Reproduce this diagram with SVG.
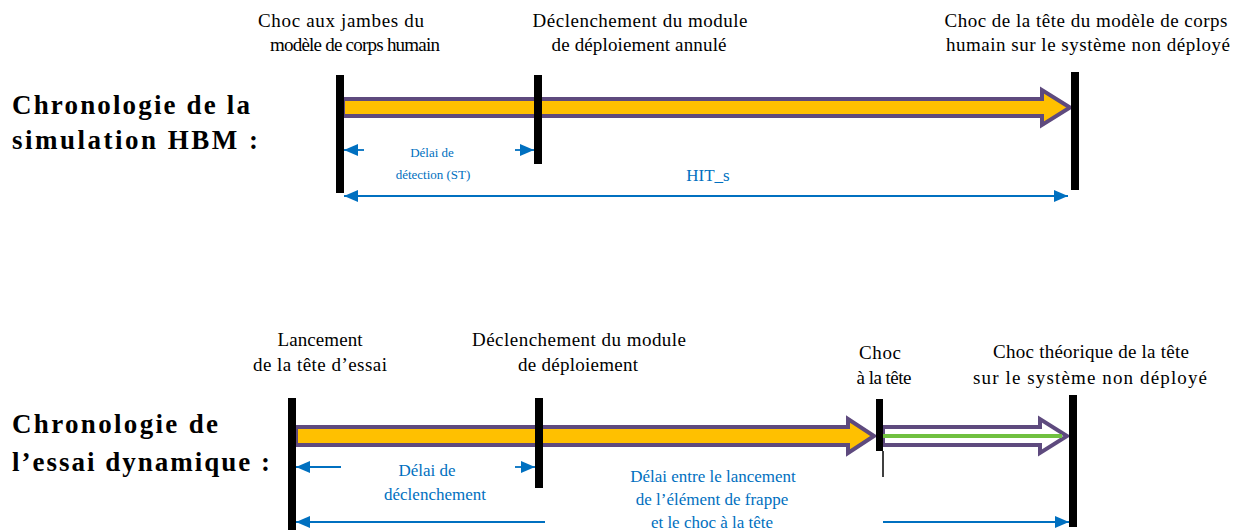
<svg xmlns="http://www.w3.org/2000/svg" width="1241" height="530" viewBox="0 0 1241 530">
<style>
text{font-family:"Liberation Serif",Tinos,"Times New Roman",Times,"DejaVu Serif","Noto Serif",serif}
.lbl{font-size:19px;fill:#000;text-anchor:middle}
.ttl{font-size:27px;font-weight:bold;fill:#000}
.blu{font-size:17px;fill:#0070C0;text-anchor:middle}
.bls{font-size:13px}
.bar{fill:#000}
.band{fill:#FFC000;stroke:#5E4A7E;stroke-width:4;stroke-linejoin:miter}
.band2{fill:#fff;stroke:#5E4A7E;stroke-width:4}
.dim{stroke:#0070C0;stroke-width:1.8;fill:none}
</style>
<defs>
<marker id="ah" viewBox="0 0 10 10" refX="10" refY="5" markerWidth="14" markerHeight="12" markerUnits="userSpaceOnUse" orient="auto-start-reverse" preserveAspectRatio="none">
<path d="M0,0 L10,5 L0,10 z" fill="#0070C0"/>
</marker>
</defs>
<rect width="1241" height="530" fill="#fff"/>

<g id="title-hbm">
<text class="ttl" x="12" y="114" textLength="238" lengthAdjust="spacing">Chronologie de la</text>
<text class="ttl" x="12" y="149" textLength="246" lengthAdjust="spacing">simulation HBM :</text>
</g>
<g id="title-essai">
<text class="ttl" x="12" y="433" textLength="206" lengthAdjust="spacing">Chronologie de</text>
<text class="ttl" x="12" y="471" textLength="258" lengthAdjust="spacing">l’essai dynamique :</text>
</g>

<g id="band-hbm">
<path class="band" d="M343,99 L1042,99 L1042,90 L1070,107.5 L1042,125 L1042,116 L343,116 z"/>
</g>
<g id="band-essai">
<path class="band" d="M296,427 L848,427 L848,419 L874,436 L848,453 L848,445 L296,445 z"/>
<path class="band2" d="M883,427 L1040,427 L1040,419 L1067,436 L1040,453 L1040,445 L883,445 z"/>
<path d="M883,436 L1062,436" stroke="#70C040" stroke-width="4"/>
</g>

<g id="ev-hbm-1">
<rect class="bar" x="336" y="75" width="8" height="118"/>
<text class="lbl" x="341" y="27" textLength="166" lengthAdjust="spacing">Choc aux jambes  du</text>
<text class="lbl" x="355" y="51" textLength="170" lengthAdjust="spacing">modèle  de corps  humain</text>
</g>
<g id="ev-hbm-2">
<rect class="bar" x="534" y="75" width="8" height="89"/>
<text class="lbl" x="640" y="27" textLength="215" lengthAdjust="spacing">Déclenchement  du module</text>
<text class="lbl" x="639" y="51" textLength="175" lengthAdjust="spacing">de déploiement  annulé</text>
</g>
<g id="ev-hbm-3">
<rect class="bar" x="1071" y="72" width="8" height="118"/>
<text class="lbl" x="1086" y="27" textLength="283" lengthAdjust="spacing">Choc de la tête  du modèle  de corps</text>
<text class="lbl" x="1088" y="51" textLength="284" lengthAdjust="spacing">humain sur le système non déployé</text>
</g>

<g id="ev-essai-1">
<rect class="bar" x="288" y="398" width="8" height="132"/>
<text class="lbl" x="320" y="346" textLength="85" lengthAdjust="spacing">Lancement</text>
<text class="lbl" x="320" y="371" textLength="134" lengthAdjust="spacing">de la tête  d’essai</text>
</g>
<g id="ev-essai-2">
<rect class="bar" x="535" y="398" width="8" height="90"/>
<text class="lbl" x="579" y="346" textLength="214" lengthAdjust="spacing">Déclenchement  du module</text>
<text class="lbl" x="578" y="371" textLength="120" lengthAdjust="spacing">de déploiement</text>
</g>
<g id="ev-essai-3">
<rect class="bar" x="876" y="399" width="7" height="52"/>
<path d="M883,451 L883,477" stroke="#000" stroke-width="1.5"/>
<text class="lbl" x="880" y="359" textLength="42" lengthAdjust="spacing">Choc</text>
<text class="lbl" x="884" y="384" textLength="55" lengthAdjust="spacing">à la tête</text>
</g>
<g id="ev-essai-4">
<rect class="bar" x="1069" y="395" width="8" height="132"/>
<text class="lbl" x="1091" y="358" textLength="196" lengthAdjust="spacing">Choc théorique  de la tête</text>
<text class="lbl" x="1090" y="384" textLength="234" lengthAdjust="spacing">sur le système non déployé</text>
</g>

<g id="connectors">
<path class="dim" d="M364,150 L344,150" marker-end="url(#ah)"/>
<path class="dim" d="M515,150 L534,150" marker-end="url(#ah)"/>
<path class="dim" d="M344,196 L1068,196" marker-start="url(#ah)" marker-end="url(#ah)"/>
<path class="dim" d="M341,467 L296,467" marker-end="url(#ah)"/>
<path class="dim" d="M515,467 L535,467" marker-end="url(#ah)"/>
<path class="dim" d="M545,522 L296,522" marker-end="url(#ah)"/>
<path class="dim" d="M883,522 L1069,522" marker-end="url(#ah)"/>
</g>

<g id="dim-labels">
<text class="blu bls" x="432" y="157">Délai de</text>
<text class="blu bls" x="433" y="179">détection (ST)</text>
<text class="blu" x="708" y="181">HIT_s</text>
<text class="blu" x="427" y="476">Délai de</text>
<text class="blu" x="435" y="500">déclenchement</text>
<text class="blu" x="713" y="482">Délai entre  le lancement</text>
<text class="blu" x="712" y="505">de l’élément de frappe</text>
<text class="blu" x="712" y="528">et le choc à la tête</text>
</g>
</svg>
